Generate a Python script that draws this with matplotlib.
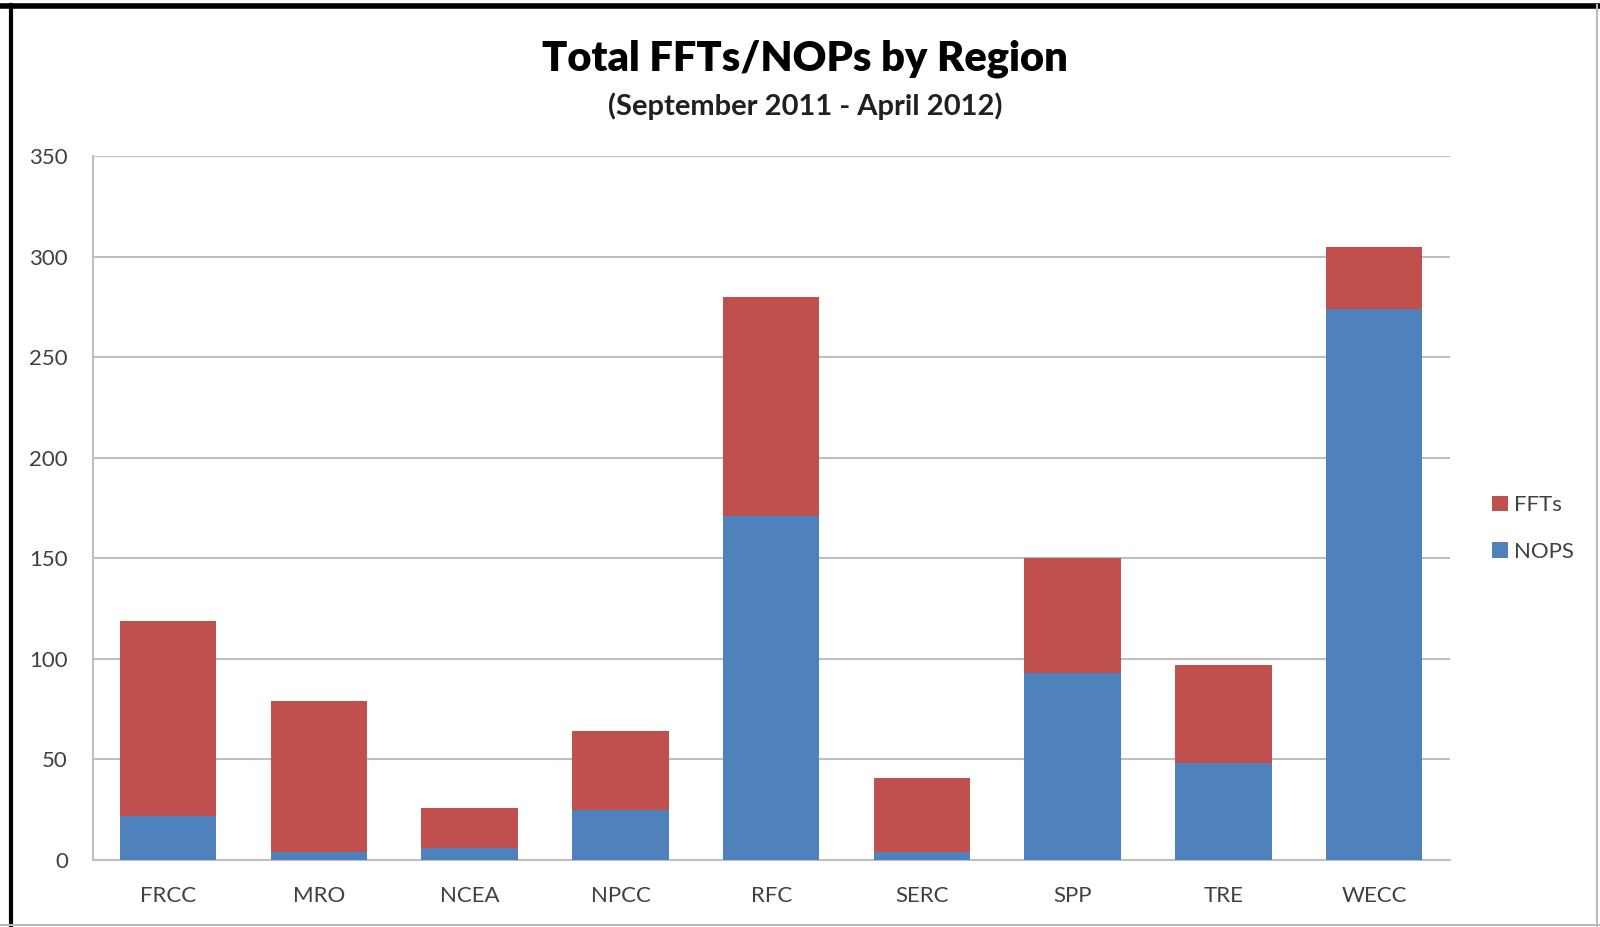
import numpy as np
import matplotlib.pyplot as plt
from matplotlib.lines import Line2D

regions = ["FRCC", "MRO", "NCEA", "NPCC", "RFC", "SERC", "SPP", "TRE", "WECC"]
nops = [22, 4, 6, 25, 171, 4, 93, 48, 274]
ffts = [97, 75, 20, 39, 109, 37, 57, 49, 31]

plt.rcParams['font.family'] = ['Lato', 'DejaVu Sans']

fig = plt.figure(figsize=(16, 9.27), dpi=100)
ax = fig.add_axes([0.058, 0.0723, 0.848, 0.7594])

x = np.arange(len(regions))
b1 = ax.bar(x, nops, width=0.64, color="#4F81BD", label="NOPS", zorder=3)
b2 = ax.bar(x, ffts, bottom=nops, width=0.64, color="#C0504D", label="FFTs", zorder=3)

ax.set_xlim(-0.5, len(regions) - 0.5)
ax.set_ylim(0, 350)
ax.set_yticks(range(0, 351, 50))
ax.set_xticks(x)
ax.set_xticklabels(regions)
ax.tick_params(axis="both", length=0, labelsize=16, labelcolor="#404040")
ax.tick_params(axis="y", pad=18)
ax.tick_params(axis="x", pad=19)
ax.grid(axis="y", color="#BFBFBF", linewidth=1.5, zorder=0)
for s in ["top", "right"]:
    ax.spines[s].set_visible(False)
ax.spines["left"].set_color("#BFBFBF")
ax.spines["bottom"].set_color("#BFBFBF")
ax.spines["left"].set_linewidth(1.5)
ax.spines["bottom"].set_linewidth(1.5)

leg = fig.legend([b2, b1], ["FFTs", "NOPS"], loc="center left",
                 bbox_to_anchor=(0.92, 0.43), frameon=False, fontsize=16,
                 handlelength=0.7, handleheight=0.7, handletextpad=0.3,
                 labelspacing=1.2)
for t in leg.get_texts():
    t.set_color("#404040")

fig.text(0.503, 0.937, "Total FFTs/NOPs by Region", ha="center", va="center",
         fontsize=30, fontweight="heavy")
fig.text(0.503, 0.885, "(September 2011 - April 2012)", ha="center", va="center",
         fontsize=21, fontweight="bold", color="#202020")

# outer border like the screenshot
fig.add_artist(Line2D([0.007, 0.007], [0.0, 0.995], color="black", linewidth=3,
                      transform=fig.transFigure))
fig.add_artist(Line2D([0.0, 1.0], [0.994, 0.994], color="black", linewidth=4,
                      transform=fig.transFigure))
fig.add_artist(Line2D([0.998, 0.998], [0.0, 0.995], color="#BBBBBB", linewidth=1.5,
                      transform=fig.transFigure))
fig.add_artist(Line2D([0.0, 1.0], [0.002, 0.002], color="#BBBBBB", linewidth=1.5,
                      transform=fig.transFigure))

fig.savefig("out.png", dpi=100)
